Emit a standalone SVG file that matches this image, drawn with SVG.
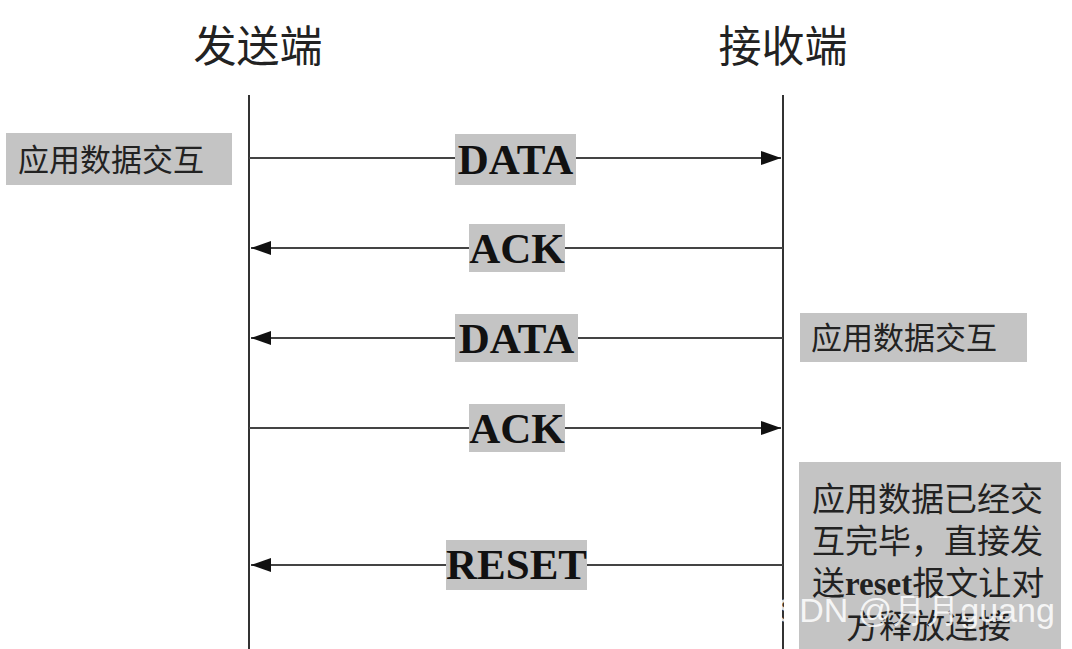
<svg xmlns="http://www.w3.org/2000/svg" width="1072" height="649" viewBox="0 0 1072 649">
  <defs>
    <marker id="arrow" viewBox="0 0 20 14" refX="20" refY="7" markerWidth="20" markerHeight="14" markerUnits="userSpaceOnUse" orient="auto">
      <path d="M0,0 L20,7 L0,14 Z" fill="#111"/>
    </marker>
  </defs>
  <style>
    .life { stroke: #333; stroke-width: 2; }
    .msg { stroke: #444; stroke-width: 2; fill: none; marker-end: url(#arrow); }
    .tag { fill: #c4c4c4; }
    .title { font-family: "Noto Sans CJK SC", sans-serif; font-size: 43px; fill: #222; text-anchor: middle; }
    .note { font-family: "Noto Sans CJK SC", sans-serif; font-size: 31px; fill: #222; }
    .lbl { font-family: "Liberation Serif", serif; font-weight: bold; font-size: 43px; fill: #111; text-anchor: middle; }
    .mark { font-family: "Liberation Sans", sans-serif; font-size: 34px; fill: #fff; fill-opacity: 0.85; }
  </style>
  <rect width="1072" height="649" fill="#fff"/>

  <g id="sender">
    <text class="title" x="258" y="62">发送端</text>
    <line class="life" x1="249" y1="95" x2="249" y2="649"/>
  </g>
  <g id="receiver">
    <text class="title" x="783" y="62">接收端</text>
    <line class="life" x1="783" y1="95" x2="783" y2="649"/>
  </g>

  <g id="connectors">
    <line class="msg" x1="249" y1="158" x2="781" y2="158"/>
    <line class="msg" x1="783" y1="248" x2="251" y2="248"/>
    <line class="msg" x1="783" y1="338" x2="251" y2="338"/>
    <line class="msg" x1="249" y1="428" x2="781" y2="428"/>
    <line class="msg" x1="783" y1="565" x2="251" y2="565"/>
  </g>

  <g id="label-data1">
    <rect class="tag" x="455" y="134" width="121" height="51"/>
    <text class="lbl" x="515.5" y="174">DATA</text>
  </g>
  <g id="label-ack1">
    <rect class="tag" x="469" y="224" width="96" height="48"/>
    <text class="lbl" x="517" y="263">ACK</text>
  </g>
  <g id="label-data2">
    <rect class="tag" x="455" y="314" width="123" height="48"/>
    <text class="lbl" x="516.5" y="353">DATA</text>
  </g>
  <g id="label-ack2">
    <rect class="tag" x="469" y="404" width="96" height="48"/>
    <text class="lbl" x="517" y="443">ACK</text>
  </g>
  <g id="label-reset">
    <rect class="tag" x="446" y="540" width="141" height="50"/>
    <text class="lbl" x="516.5" y="579">RESET</text>
  </g>

  <g id="note-sender">
    <rect class="tag" x="6" y="133" width="226" height="52"/>
    <text class="note" x="18" y="171">应用数据交互</text>
  </g>
  <g id="note-receiver">
    <rect class="tag" x="800" y="313" width="227" height="49"/>
    <text class="note" x="811" y="349">应用数据交互</text>
  </g>
  <g id="note-reset">
    <rect class="tag" x="799" y="462" width="262" height="187"/>
    <text class="note" x="812" y="511" style="font-size:33px">应用数据已经交</text>
    <text class="note" x="812" y="553" style="font-size:33px">互完毕，直接发</text>
    <text class="note" x="812" y="595" style="font-size:33px">送<tspan style="font-family:'Liberation Serif',serif;font-weight:bold">reset</tspan>报文让对</text>
    <text class="note" x="846" y="638" style="font-size:33px">方释放连接</text>
  </g>

  <text class="mark" x="752" y="622">CSDN @月月guang</text>
</svg>
